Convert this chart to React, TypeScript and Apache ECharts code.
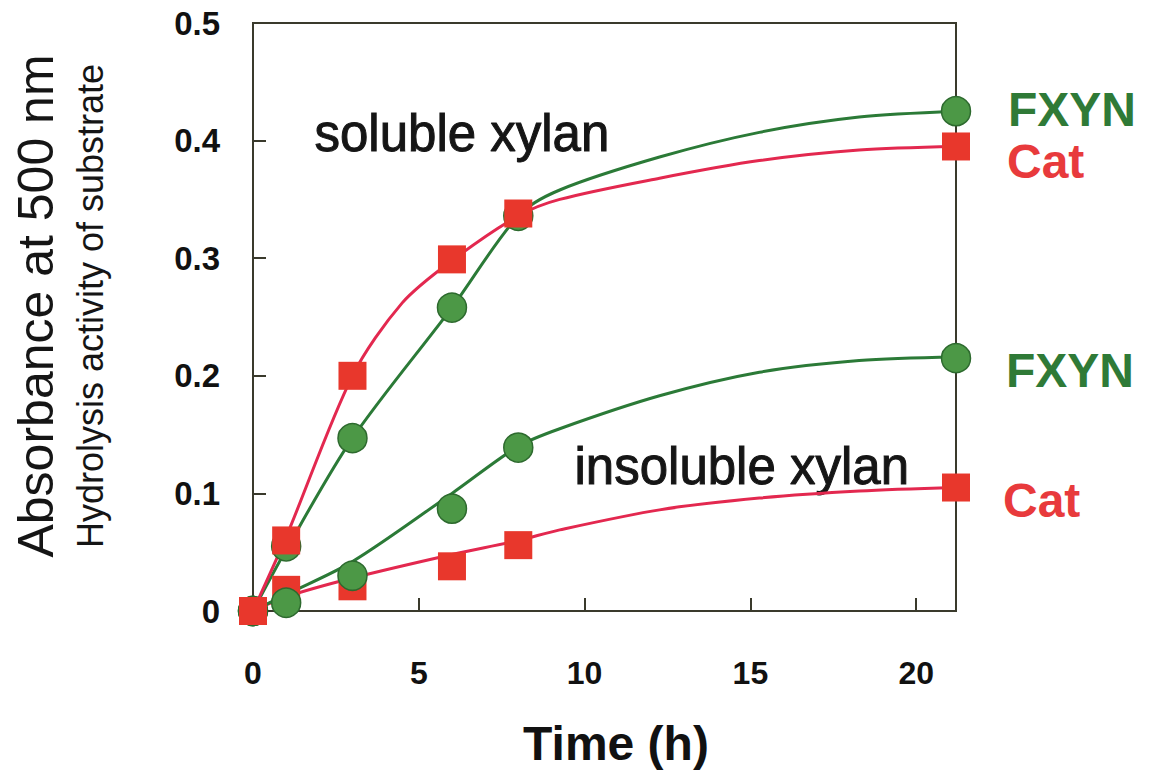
import React, { useEffect, useRef } from "react";
import * as echarts from "echarts";

// Measured points (time in hours, absorbance at 500 nm)
const timeHours = [0, 1, 3, 6, 8, 21.2];
const fxynSoluble = [0, 0.055, 0.147, 0.258, 0.336, 0.425];
const catSoluble = [0, 0.06, 0.2, 0.299, 0.338, 0.395];
const fxynInsoluble = [0, 0.007, 0.03, 0.087, 0.139, 0.215];
const catInsoluble = [0, 0.018, 0.021, 0.038, 0.056, 0.105];

// Fitted curves
const fxynSolubleFitT = [0, 1, 3, 6, 8, 9.25, 12.26, 15.27, 18.28, 21.2];
const fxynSolubleFitV = [0, 0.052, 0.147, 0.258, 0.336, 0.358, 0.386, 0.407, 0.42, 0.425];
const catSolubleFitT = [0, 1, 3, 4.5, 6, 8, 9.25, 12.26, 15.27, 18.28, 21.2];
const catSolubleFitV = [0, 0.063, 0.2, 0.262, 0.298, 0.336, 0.35, 0.368, 0.383, 0.392, 0.395];
const fxynInsolubleFitT = [0, 1, 3, 6, 8, 9.25, 12.26, 15.27, 18.28, 21.2];
const fxynInsolubleFitV = [0, 0.014, 0.042, 0.1, 0.14, 0.155, 0.183, 0.203, 0.213, 0.216];
const catInsolubleFitT = [0, 1, 3, 6, 8, 9.25, 12.26, 15.27, 18.28, 21.2];
const catInsolubleFitV = [0, 0.012, 0.028, 0.048, 0.06, 0.069, 0.086, 0.096, 0.102, 0.105];

const FONT = "'Liberation Sans', Arial, Helvetica, sans-serif";
const GREEN_LINE = "#2b7a37";
const GREEN_FILL = "#4c9846";
const GREEN_BORDER = "#2d6a2e";
const RED_LINE = "#e3284f";
const RED_FILL = "#e8372c";
const GREEN_TEXT = "#2f7a37";
const RED_TEXT = "#e83a3c";

function zip(ts: number[], vs: number[]) {
  return ts.map((t, i) => [t, vs[i]]);
}

function fitSeries(ts: number[], vs: number[], color: string) {
  return {
    type: "line",
    data: zip(ts, vs),
    smooth: 0.3,
    showSymbol: false,
    symbol: "none",
    lineStyle: { color, width: 3 },
    z: 2,
    silent: true,
  };
}

function markerSeries(name: string, ys: number[], kind: "fxyn" | "cat") {
  const isG = kind === "fxyn";
  return {
    name,
    type: "scatter",
    data: zip(timeHours, ys),
    symbol: isG ? "circle" : "rect",
    symbolSize: isG ? 29 : 28,
    itemStyle: {
      color: isG ? GREEN_FILL : RED_FILL,
      borderColor: isG ? GREEN_BORDER : RED_FILL,
      borderWidth: isG ? 1.5 : 0,
      opacity: 1,
    },
    z: 3,
  };
}

export default function App() {
  const ref = useRef<HTMLDivElement>(null);
  useEffect(() => {
    if (!ref.current) return;
    const chart = echarts.init(ref.current, null, { renderer: "svg" });
    const axisLine = { show: true, lineStyle: { color: "#3a3a2c", width: 2 } };
    const textStyle = (size: number, weight = "normal") => `${weight} ${size}px ${FONT}`;
    chart.setOption({
      animation: false,
      backgroundColor: "#ffffff",
      grid: {
        left: 253,
        top: 23,
        right: 194,
        bottom: 172,
        show: true,
        borderColor: "#3a3a2c",
        borderWidth: 2,
        backgroundColor: "transparent",
      },
      xAxis: {
        type: "value",
        min: 0,
        max: 21.2,
        interval: 5,
        axisLine,
        axisTick: { show: true, inside: true, length: 13, lineStyle: { color: "#3a3a2c", width: 2 } },
        axisLabel: {
          showMaxLabel: false,
          margin: 46,
          fontFamily: FONT,
          fontWeight: "bold",
          fontSize: 32,
          color: "#111",
        },
        splitLine: { show: false },
      },
      yAxis: {
        type: "value",
        min: 0,
        max: 0.5,
        interval: 0.1,
        axisLine,
        axisTick: { show: true, inside: true, length: 13, lineStyle: { color: "#3a3a2c", width: 2 } },
        axisLabel: {
          margin: 33,
          fontFamily: FONT,
          fontWeight: "bold",
          fontSize: 33,
          color: "#111",
        },
        splitLine: { show: false },
      },
      series: [
        fitSeries(catInsolubleFitT, catInsolubleFitV, RED_LINE),
        fitSeries(fxynInsolubleFitT, fxynInsolubleFitV, GREEN_LINE),
        fitSeries(fxynSolubleFitT, fxynSolubleFitV, GREEN_LINE),
        fitSeries(catSolubleFitT, catSolubleFitV, RED_LINE),
        markerSeries("Cat insoluble", catInsoluble, "cat"),
        markerSeries("FXYN insoluble", fxynInsoluble, "fxyn"),
        markerSeries("FXYN soluble", fxynSoluble, "fxyn"),
        markerSeries("Cat soluble", catSoluble, "cat"),
      ],
      graphic: [
        {
          type: "text",
          left: 314,
          top: 107,
          style: { text: "soluble xylan", font: textStyle(51), fill: "#151515", stroke: "#151515", lineWidth: 1 },
        },
        {
          type: "text",
          left: 574,
          top: 440,
          style: { text: "insoluble xylan", font: textStyle(51), fill: "#151515", stroke: "#151515", lineWidth: 1 },
        },
        {
          type: "text",
          x: 1008,
          y: 109,
          style: { text: "FXYN", font: textStyle(48, "bold"), fill: GREEN_TEXT, verticalAlign: "middle" },
        },
        {
          type: "text",
          x: 1007,
          y: 161,
          style: { text: "Cat", font: textStyle(48, "bold"), fill: RED_TEXT, verticalAlign: "middle" },
        },
        {
          type: "text",
          x: 1006,
          y: 370,
          style: { text: "FXYN", font: textStyle(48, "bold"), fill: GREEN_TEXT, verticalAlign: "middle" },
        },
        {
          type: "text",
          x: 1003,
          y: 500,
          style: { text: "Cat", font: textStyle(48, "bold"), fill: RED_TEXT, verticalAlign: "middle" },
        },
        {
          type: "text",
          x: 616,
          y: 743,
          style: { text: "Time (h)", font: textStyle(48, "bold"), fill: "#111", align: "center", verticalAlign: "middle" },
        },
        {
          type: "text",
          x: 36,
          y: 306,
          rotation: Math.PI / 2,
          style: { text: "Absorbance at 500 nm", font: textStyle(50), fill: "#151515", align: "center", verticalAlign: "middle" },
        },
        {
          type: "text",
          x: 90,
          y: 306,
          rotation: Math.PI / 2,
          style: { text: "Hydrolysis activity of substrate", font: textStyle(36), fill: "#151515", align: "center", verticalAlign: "middle" },
        },
      ],
    });
    return () => chart.dispose();
  }, []);
  return (
    <div
      ref={ref}
      style={{ position: "absolute", left: 0, top: 0, width: 1150, height: 783, background: "#fff" }}
    />
  );
}
